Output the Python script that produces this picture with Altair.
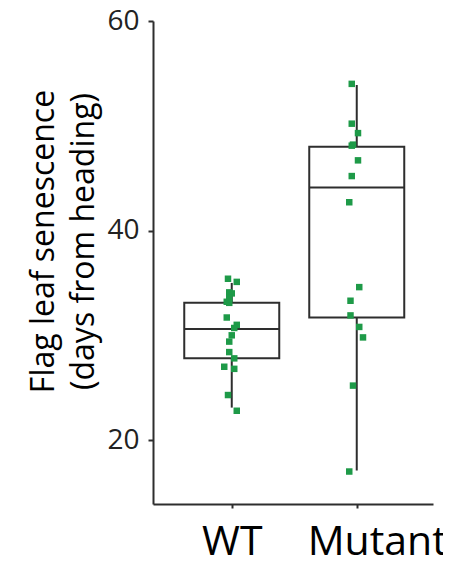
import altair as alt
import pandas as pd

categories = ["WT", "Mutant"]
positions = [1, 2]

# box statistics
q1 = [27.8, 31.7]
median = [30.6, 44.1]
q3 = [33.1, 48.0]
whisk_lo = [23.1, 17.1]
whisk_hi = [35.0, 53.9]

wt_values = [35.4, 35.1, 34.1, 34.0, 33.6, 33.2, 33.1, 31.7, 31.0, 30.7,
             30.0, 29.4, 28.4, 27.8, 27.0, 26.8, 24.3, 22.8]
wt_jitter = [-0.03, 0.04, -0.02, 0.0, -0.02, -0.04, -0.02, -0.04, 0.04, 0.02,
             0.0, -0.02, -0.02, 0.02, -0.06, 0.02, -0.03, 0.04]
mut_values = [54.0, 50.2, 49.3, 48.2, 48.1, 46.7, 45.2, 42.7, 34.6, 33.3,
              31.9, 30.8, 29.8, 25.2, 17.0]
mut_jitter = [-0.04, -0.04, 0.01, -0.03, -0.04, 0.01, -0.04, -0.06, 0.02, -0.05,
              -0.05, 0.02, 0.05, -0.03, -0.06]

half = 0.38
box_df = pd.DataFrame({
    "cat": categories, "pos": positions, "q1": q1, "median": median, "q3": q3,
    "lo": whisk_lo, "hi": whisk_hi,
})
box_df["left"] = box_df["pos"] - half
box_df["right"] = box_df["pos"] + half

pts_df = pd.DataFrame({
    "cat": ["WT"] * len(wt_values) + ["Mutant"] * len(mut_values),
    "value": wt_values + mut_values,
    "jit": wt_jitter + mut_jitter,
})
pts_df["x"] = pts_df["cat"].map(dict(zip(categories, positions))) + pts_df["jit"]

xscale = alt.Scale(domain=[0.37, 2.61], nice=False, zero=False)
yscale = alt.Scale(domain=[13.9, 60], nice=False, zero=False)
DARK = "#2e2e2e"
FONT = "Open Sans"

xaxis = alt.Axis(values=[1, 2], labelExpr="datum.value == 1 ? 'WT' : 'Mutant'",
                 title=None, grid=False, labelFontSize=41, labelFont=FONT,
                 labelColor="#000000", domainColor=DARK, domainWidth=2,
                 tickColor=DARK, tickWidth=2, tickSize=4, labelPadding=14,
                 labelOffset=alt.ConditionalAxisNumber(
                     condition={"test": "datum.value == 2", "value": 20}, value=0))
yaxis = alt.Axis(values=[20, 40, 60], title=["Flag leaf senescence", "(days from heading)"],
                 grid=False, labelFontSize=28, labelFont=FONT, labelColor="#222222",
                 titleFontSize=32, titleFont=FONT, titleFontWeight="normal",
                 titleColor="#000000", titleLineHeight=40, domainColor=DARK, domainWidth=2,
                 tickColor=DARK, tickWidth=2, tickSize=5, labelPadding=9,
                 titlePadding=6, titleY=220)

base = alt.Chart(box_df)
whisk = base.mark_rule(color=DARK, strokeWidth=2).encode(
    x=alt.X("pos:Q", scale=xscale, axis=xaxis),
    y=alt.Y("lo:Q", scale=yscale, axis=yaxis),
    y2="hi:Q",
)
box = base.mark_rect(fill="white", stroke=DARK, strokeWidth=2).encode(
    x=alt.X("left:Q", scale=xscale), x2="right:Q",
    y=alt.Y("q1:Q", scale=yscale), y2="q3:Q",
)
med = base.mark_rule(color=DARK, strokeWidth=2).encode(
    x=alt.X("left:Q", scale=xscale), x2="right:Q",
    y=alt.Y("median:Q", scale=yscale),
)
pts = alt.Chart(pts_df).mark_square(size=42, color="#1e9a48", opacity=1).encode(
    x=alt.X("x:Q", scale=xscale),
    y=alt.Y("value:Q", scale=yscale),
)

chart = alt.layer(whisk, box, med, pts).properties(
    width=280, height=483,
    autosize=alt.AutoSizeParams(type="none"),
    padding={"left": 145, "top": 13, "right": 10, "bottom": 52},
).configure_view(stroke=None)

chart.save("out.html", embed_options={"renderer": "svg", "actions": False})
